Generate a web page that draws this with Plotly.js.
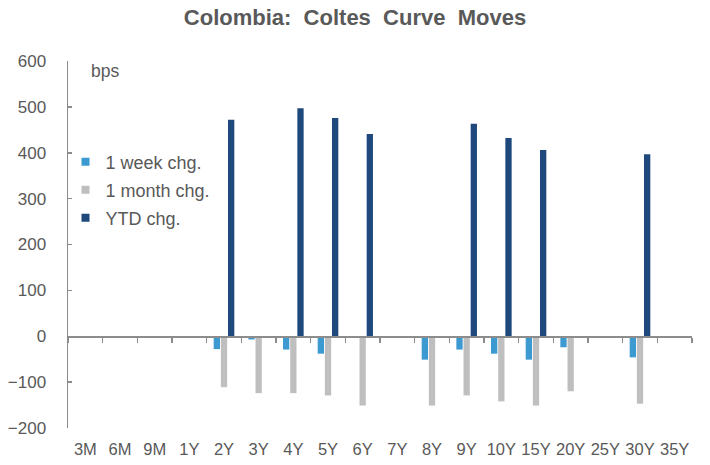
<!DOCTYPE html>
<html><head><meta charset="utf-8">
<script src="https://cdn.plot.ly/plotly-3.0.1.min.js"></script>
<style>body{margin:0;background:#fff}#chart{width:710px;height:465px}</style>
</head><body><div id="chart"></div>
<script>
const tenors = ["3M","6M","9M","1Y","2Y","3Y","4Y","5Y","6Y","7Y","8Y","9Y","10Y","15Y","20Y","25Y","30Y","35Y"];
const weekChg = [null,null,null,null,-28,-7,-29,-38,null,null,-51,-29,-38,-51,-24,null,-46,null];
const monthChg = [null,null,null,null,-111,-124,-124,-129,-151,null,-151,-129,-142,-151,-120,null,-147,null];
const ytdChg = [null,null,null,null,472,null,497,476,441,null,null,463,432,406,null,null,397,null];
const seriesNames = ["1 week chg.","1 month chg.","YTD chg."];
const seriesColors = ["#3D9AD1","#BFBFBF","#1F497D"];

const gray = "#595959";
const fam = "Liberation Sans, Arial, sans-serif";
const axisGray = "#8c8c8c";

const seriesData = [weekChg, monthChg, ytdChg];
const legendIds = ["legend","legend2","legend3"];
const traces = [];
seriesData.forEach((d,i)=>{
  traces.push({type:"bar", name:seriesNames[i], x:tenors, y:d, marker:{color:seriesColors[i]}, showlegend:false});
});
seriesData.forEach((d,i)=>{
  traces.push({type:"scatter", mode:"markers", name:seriesNames[i], x:[null], y:[null], marker:{symbol:"square", size:8, color:seriesColors[i]}, legend:legendIds[i], showlegend:true, hoverinfo:"skip"});
});
traces.push({type:"scatter", mode:"markers", x:tenors, y:tenors.map(()=>null), xaxis:"x2", yaxis:"y", showlegend:false, hoverinfo:"skip"});

const legRows = [0.725, 0.6485, 0.572];
const legBase = {x:-0.004, xanchor:"left", yanchor:"middle", font:{family:fam, size:18, color:gray}, bgcolor:"rgba(0,0,0,0)", itemwidth:30};

const layout = {
  width:710, height:465,
  margin:{l:68, r:18, t:61, b:37},
  paper_bgcolor:"#fff", plot_bgcolor:"#fff",
  font:{family:fam, color:gray, size:16},
  title:{text:"<b>Colombia:&nbsp; Coltes&nbsp; Curve&nbsp; Moves</b>", x:0.5, xref:"container", xanchor:"center", y:0.9634, yref:"container", yanchor:"middle", font:{family:fam, size:22, color:gray}},
  barmode:"group", bargap:0.38, bargroupgap:0.12,
  showlegend:true,
  legend:Object.assign({}, legBase, {y:legRows[0]}),
  legend2:Object.assign({}, legBase, {y:legRows[1]}),
  legend3:Object.assign({}, legBase, {y:legRows[2]}),
  xaxis:{type:"category", categoryorder:"array", categoryarray:tenors, range:[-0.5,17.5], showline:false, showgrid:false, zeroline:false, ticks:"", tickfont:{size:16.5, color:gray}, ticklabelstandoff:9},
  xaxis2:{type:"category", overlaying:"x", categoryorder:"array", categoryarray:tenors, range:[-0.5,17.5], anchor:"free", position:0.25, showline:true, linecolor:axisGray, linewidth:1.5, ticks:"outside", tickson:"boundaries", ticklen:5, tickcolor:axisGray, tickwidth:1.5, showticklabels:false, showgrid:false, zeroline:false},
  yaxis:{range:[-200,600], dtick:100, showgrid:false, zeroline:false, showline:true, linecolor:axisGray, linewidth:1.5, ticks:"inside", ticklen:4, tickcolor:axisGray, tickwidth:1.5, tickfont:{size:17, color:gray}, ticklabelstandoff:17},
  annotations:[{text:"bps", xref:"paper", yref:"paper", x:0.034, y:0.973, xanchor:"left", yanchor:"middle", showarrow:false, font:{size:17.5, color:gray}}]
};

Plotly.newPlot("chart", traces, layout, {displayModeBar:false, staticPlot:true});
</script></body></html>
